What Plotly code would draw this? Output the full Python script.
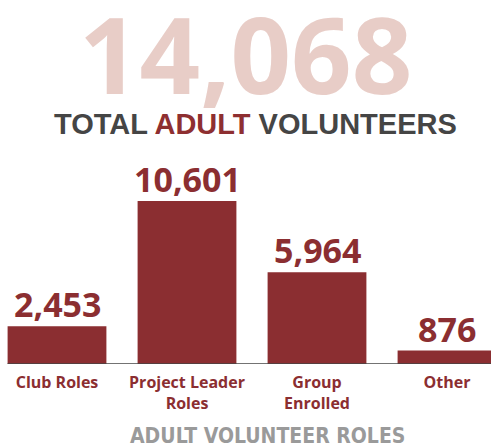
import plotly.graph_objects as go

categories = ["Club Roles", "Project Leader<br>Roles", "Group<br>Enrolled", "Other"]
values = [2453, 10601, 5964, 876]
value_labels = ["2,453", "10,601", "5,964", "876"]
total_label = "14,068"
subtitle = "TOTAL <span style='color:#8E2F31'>ADULT</span> VOLUNTEERS"
axis_title = "ADULT VOLUNTEER ROLES"

BAR = "#8B2E31"
W, H = 491, 446
T, B = 150, 82
PH = H - T - B

fig = go.Figure()
fig.add_trace(go.Bar(
    x=list(range(len(categories))), y=values,
    marker=dict(color=BAR, line=dict(width=0)),
    width=0.76, hoverinfo="skip",
))

for i, (v, lab) in enumerate(zip(values, value_labels)):
    fig.add_annotation(x=i, y=v, text=lab, showarrow=False, xref="x", yref="y",
                       yanchor="bottom", yshift=-3,
                       font=dict(family="Open Sans", size=34, color=BAR, weight="bold"))

def py(p):
    return (H - B - p) / PH

fig.add_annotation(x=246 / W, y=py(53), xref="paper", yref="paper", text=total_label,
                   showarrow=False, xanchor="center", yanchor="middle",
                   font=dict(family="Open Sans", size=106, color="#E8CDC7", weight="bold"))
fig.add_annotation(x=256 / W, y=py(124), xref="paper", yref="paper", text=subtitle,
                   showarrow=False, xanchor="center", yanchor="middle",
                   font=dict(family="Liberation Sans", size=29, color="#454545", weight="bold"))
fig.add_annotation(x=267 / W, y=py(422), xref="paper", yref="paper", text=axis_title,
                   showarrow=False, xanchor="center", yanchor="top",
                   font=dict(family="DejaVu Sans Condensed", size=21,
                             color="#9A9A9A", weight="bold"))

fig.add_shape(type="line", xref="x", yref="y", x0=-0.38, x1=3.4, y0=0, y1=0,
              line=dict(color="#444444", width=1.5), layer="above")

ymax = max(values) * PH / 163
fig.update_layout(
    width=W, height=H, margin=dict(l=0, r=0, t=T, b=B),
    paper_bgcolor="white", plot_bgcolor="white", showlegend=False,
    xaxis=dict(tickmode="array", tickvals=list(range(len(categories))), ticktext=categories,
               range=[-57 / 130, (W - 57) / 130], showgrid=False, zeroline=False, showline=False,
               ticks="", ticklabelstandoff=7,
               tickfont=dict(family="Open Sans", size=16, color=BAR, weight="bold")),
    yaxis=dict(range=[0, ymax], visible=False, fixedrange=True),
)
fig.write_html("out.html", config={"displayModeBar": False},
               post_script="document.body.style.margin='0';document.body.style.overflow='hidden';")
